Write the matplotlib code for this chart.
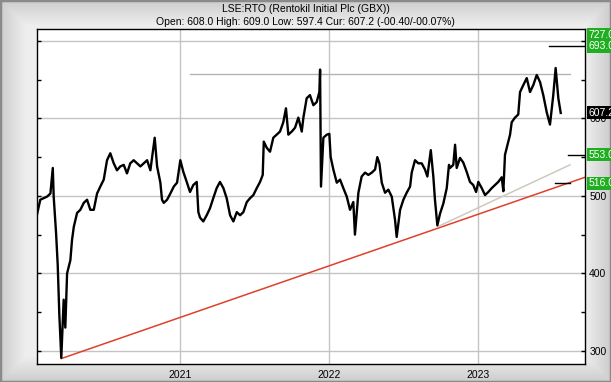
import numpy as np
import matplotlib.pyplot as plt

plt.rcParams['font.family'] = ['Liberation Sans', 'DejaVu Sans']

# price (decimal year, GBX)
years = [2020.040, 2020.062, 2020.107, 2020.130, 2020.146, 2020.152, 2020.168, 2020.179, 2020.190, 2020.203,
         2020.213, 2020.219, 2020.230, 2020.242, 2020.264, 2020.275, 2020.287, 2020.309, 2020.331, 2020.354,
         2020.376, 2020.398, 2020.421, 2020.443, 2020.465, 2020.488, 2020.510, 2020.532, 2020.555, 2020.577,
         2020.599, 2020.622, 2020.644, 2020.666, 2020.689, 2020.711, 2020.734, 2020.756, 2020.779, 2020.801,
         2020.830, 2020.846, 2020.868, 2020.879, 2020.891, 2020.913, 2020.935, 2020.958, 2020.980, 2021.002,
         2021.022, 2021.045, 2021.067, 2021.089, 2021.112, 2021.123, 2021.134, 2021.156, 2021.179, 2021.201,
         2021.223, 2021.246, 2021.268, 2021.291, 2021.313, 2021.336, 2021.358, 2021.381, 2021.403, 2021.425,
         2021.448, 2021.470, 2021.492, 2021.515, 2021.537, 2021.555, 2021.562, 2021.582, 2021.604, 2021.626,
         2021.649, 2021.671, 2021.693, 2021.711, 2021.727, 2021.750, 2021.772, 2021.794, 2021.817, 2021.828,
         2021.850, 2021.872, 2021.895, 2021.917, 2021.935, 2021.940, 2021.946, 2021.962, 2021.985, 2022.002,
         2022.011, 2022.029, 2022.052, 2022.074, 2022.096, 2022.119, 2022.141, 2022.163, 2022.174, 2022.197,
         2022.219, 2022.242, 2022.264, 2022.287, 2022.309, 2022.324, 2022.338, 2022.354, 2022.376, 2022.398,
         2022.421, 2022.443, 2022.454, 2022.477, 2022.499, 2022.521, 2022.544, 2022.555, 2022.577, 2022.599,
         2022.622, 2022.644, 2022.660, 2022.683, 2022.700, 2022.711, 2022.727, 2022.745, 2022.767, 2022.790,
         2022.805, 2022.812, 2022.834, 2022.846, 2022.857, 2022.879, 2022.901, 2022.924, 2022.946, 2022.968,
         2022.987, 2023.002, 2023.025, 2023.047, 2023.069, 2023.092, 2023.114, 2023.136, 2023.159, 2023.170,
         2023.181, 2023.193, 2023.215, 2023.226, 2023.248, 2023.270, 2023.282, 2023.304, 2023.327, 2023.349,
         2023.371, 2023.394, 2023.416, 2023.438, 2023.461, 2023.483, 2023.505, 2023.521, 2023.539, 2023.555]
price = [476, 495, 499, 503, 536, 499, 452, 411, 346, 291,
         340, 366, 330, 400, 417, 443, 460, 478, 482, 491,
         495, 482, 482, 503, 512, 521, 546, 555, 542, 533,
         538, 540, 529, 542, 546, 542, 538, 542, 546, 533,
         575, 538, 517, 495, 491, 495, 503, 512, 517, 546,
         531, 518, 505, 514, 518, 479, 472, 467, 475, 484,
         497, 510, 518, 510, 497, 475, 467, 479, 475, 479,
         492, 497, 501, 510, 518, 527, 570, 562, 557, 575,
         579, 583, 595, 613, 579, 583, 588, 601, 583, 601,
         626, 630, 617, 621, 634, 663, 512, 575, 579, 580,
         550, 534, 517, 521, 510, 499, 482, 492, 450, 504,
         525, 530, 527, 530, 534, 550, 542, 517, 504, 508,
         499, 469, 447, 482, 495, 504, 512, 530, 546, 542,
         542, 534, 525, 559, 525, 495, 462, 477, 490, 510,
         540, 536, 540, 566, 536, 549, 543, 531, 518, 514,
         505, 518, 510, 501, 505, 510, 514, 518, 524, 506,
         553, 562, 579, 595, 601, 605, 634, 643, 652, 634,
         643, 656, 647, 630, 608, 592, 630, 665, 626, 607]

red_x = [2020.203, 2023.718]
red_y = [290, 524]
gray_x = [2022.727, 2023.617]
gray_y = [460, 540]
high_x = [2021.067, 2023.617]
high_y = 657

marks = [(693, 2023.477, 2023.718), (553, 2023.604, 2023.718), (516, 2023.517, 2023.617)]
tags = [(693, '693.0', '#1fae1f'), (553, '553.0', '#1fae1f'), (516, '516.0', '#1fae1f'),
        (607.2, '607.2', 'black')]
year_ticks = [2021, 2022, 2023]

fig = plt.figure(figsize=(6.11, 3.82), dpi=100)

# bevelled grey background
bg = fig.add_axes([0, 0, 1, 1], zorder=-5)
gx = np.linspace(0, 1, 611)
gy = np.linspace(0, 1, 382)
X, Y = np.meshgrid(gx, gy)
edge = np.minimum(np.minimum(X, 1 - X) * 611, np.minimum(Y, 1 - Y) * 382)
shade = 0.80 + 0.13 * np.clip(edge / 25, 0, 1)
bg.imshow(shade, cmap='gray', vmin=0, vmax=1, aspect='auto', extent=[0, 1, 0, 1])
bg.plot([0, 1, 1, 0, 0], [0, 0, 1, 1, 0], color='#8a8a8a', lw=2.5)
bg.set_xlim(0, 1)
bg.set_ylim(0, 1)
bg.axis('off')

ax = fig.add_axes([37 / 611, 18 / 382, 548 / 611, 335.5 / 382])
ax.set_facecolor('white')

ax.plot(high_x, [high_y, high_y], color='#b4b4b4', lw=1)
ax.plot(red_x, red_y, color='#e0402a', lw=1.1)
ax.plot(gray_x, gray_y, color='#cfc8c0', lw=1.1)
ax.plot(years, price, color='black', lw=1.7)
for val, x0, x1 in marks:
    ax.plot([x0, x1], [val, val], color='black', lw=1)

ax.set_xlim(2020.040, 2023.718)
ax.set_ylim(283, 716)
ax.set_xticks(year_ticks)
ax.set_xticklabels([str(y) for y in year_ticks], fontsize=7.5)
ax.set_yticks([300, 400, 500, 600, 700])
ax.set_yticks([350, 450, 550, 650], minor=True)
ax.grid(True, which='major', color='#c4c4c4', lw=1)
ax.tick_params(axis='y', which='both', direction='in', left=True, right=True,
               labelleft=False, labelright=True, length=3, width=1, labelsize=7.5, pad=3)
ax.tick_params(axis='x', length=0, pad=4)
for s in ax.spines.values():
    s.set_linewidth(1)

for val, txt, col in tags:
    ax.text(1.006, val, txt, transform=ax.get_yaxis_transform(), color='white',
            fontsize=7.5, va='center', ha='left', clip_on=False,
            bbox=dict(boxstyle='square,pad=0.15', fc=col, ec='none'))
ax.text(1.006, 0.982, '727.0', transform=ax.transAxes, color='white',
        fontsize=7.5, va='center', ha='left', clip_on=False,
        bbox=dict(boxstyle='square,pad=0.15', fc='#1fae1f', ec='none'))

fig.text(0.5, 1 - 9 / 382, 'LSE:RTO (Rentokil Initial Plc (GBX))', ha='center', va='center', fontsize=7.5)
fig.text(0.5, 1 - 22 / 382, 'Open: 608.0 High: 609.0 Low: 597.4 Cur: 607.2 (-00.40/-00.07%)',
         ha='center', va='center', fontsize=7.5)

fig.savefig('out.png', dpi=100)
